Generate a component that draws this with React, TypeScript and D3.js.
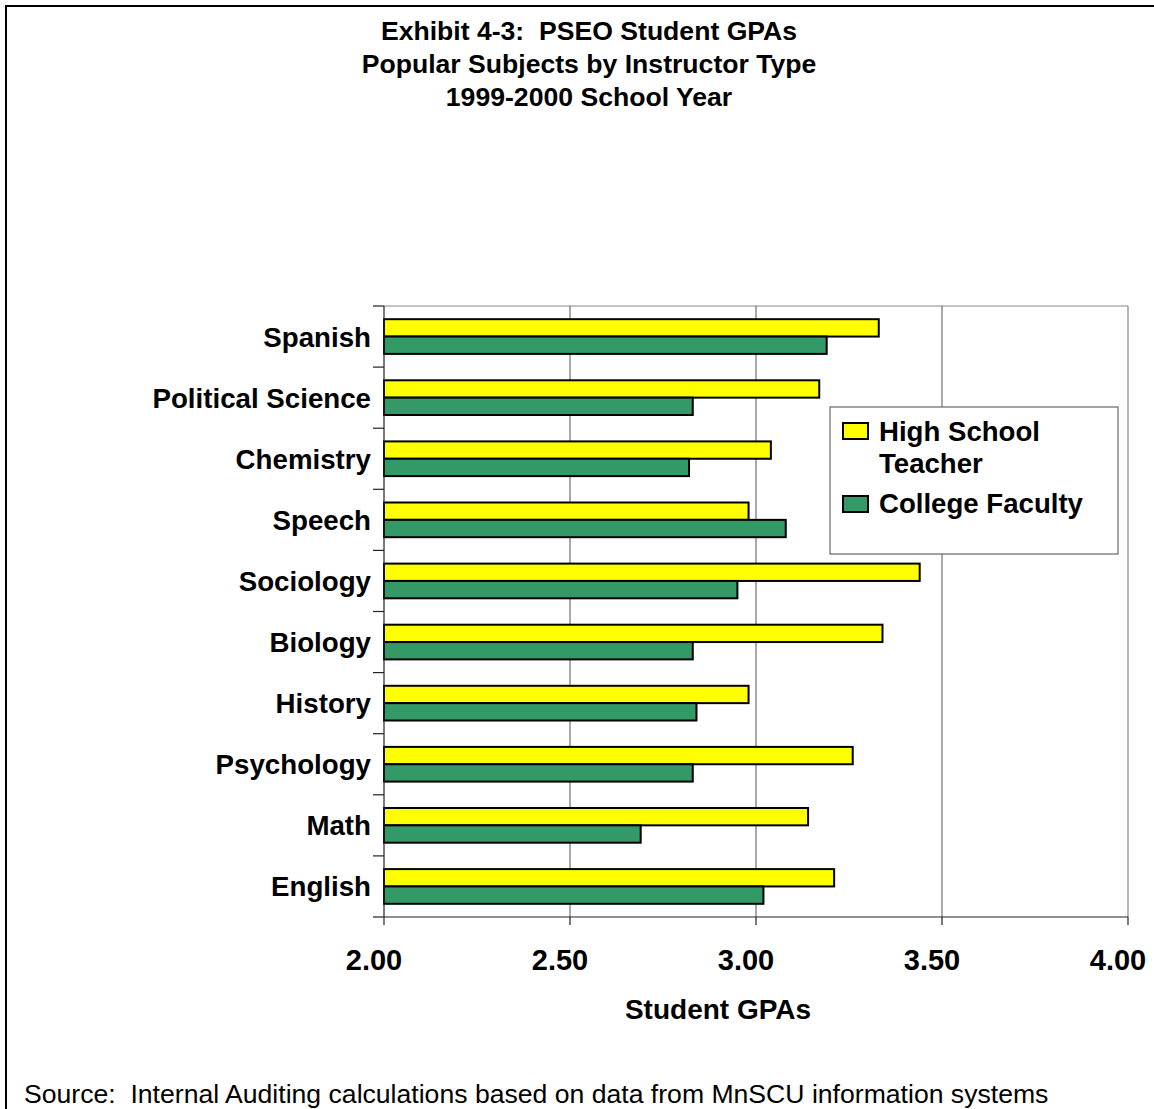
import React from "react";
import * as d3 from "d3";

const categories = ["Spanish", "Political Science", "Chemistry", "Speech", "Sociology", "Biology", "History", "Psychology", "Math", "English"];
const highSchool = [3.33, 3.17, 3.04, 2.98, 3.44, 3.34, 2.98, 3.26, 3.14, 3.21];
const college = [3.19, 2.83, 2.82, 3.08, 2.95, 2.83, 2.84, 2.83, 2.69, 3.02];
const seriesNames = ["High School Teacher", "College Faculty"];
const seriesColors = ["#FFFF00", "#339966"];
const xTicks = [2.0, 2.5, 3.0, 3.5, 4.0];
const titleLines = ["Exhibit 4-3:\u00A0 PSEO Student GPAs", "Popular Subjects by Instructor Type", "1999-2000 School Year"];
const xAxisTitle = "Student GPAs";
const sourceText = "Source:\u00A0 Internal Auditing calculations based on data from MnSCU information systems";

const W = 1154;
const H = 1109;
const FONT = "'Liberation Sans', Arial, Helvetica, sans-serif";

export default function App() {
  const left = 384, right = 1128, top = 306, bottom = 917;
  const x = d3.scaleLinear().domain([2, 4]).range([left, right]);
  const y = d3.scaleBand<string>().domain(categories).range([top, bottom]).paddingInner(0.432).paddingOuter(0.216);
  const sub = d3.scaleBand<number>().domain([0, 1]).range([0, y.bandwidth()]);
  const step = y.step();
  const series = [highSchool, college];

  return (
    <svg width={W} height={H} style={{ position: "absolute", left: 0, top: 0, display: "block", background: "#fff" }} fontFamily={FONT}>
      <rect x={0} y={0} width={W} height={H} fill="#fff" />
      {/* outer frame */}
      <rect x={6} y={6} width={W + 20} height={H + 20} fill="none" stroke="#000" strokeWidth={2} />

      {/* title */}
      {titleLines.map((t, i) => (
        <text key={i} x={589} y={40 + i * 33} textAnchor="middle" fontSize={26.6} fontWeight="bold" fill="#000">{t}</text>
      ))}

      {/* plot frame */}
      <line x1={left} x2={right} y1={top} y2={top} stroke="#888" strokeWidth={1.2} />
      <line x1={right} x2={right} y1={top} y2={bottom} stroke="#888" strokeWidth={1.2} />

      {/* gridlines */}
      {xTicks.slice(1, -1).map((t) => (
        <line key={t} x1={x(t)} x2={x(t)} y1={top} y2={bottom} stroke="#555" strokeWidth={1} />
      ))}

      {/* bars */}
      {categories.map((c, i) => (
        <g key={c}>
          {series.map((s, j) => (
            <rect key={j} x={x(2)} y={(y(c) as number) + (sub(j) as number)} width={x(s[i]) - x(2)} height={sub.bandwidth()} fill={seriesColors[j]} stroke="#000" strokeWidth={2} />
          ))}
        </g>
      ))}

      {/* axes */}
      <line x1={left} x2={left} y1={top} y2={bottom} stroke="#222" strokeWidth={1.2} />
      <line x1={left} x2={right} y1={bottom} y2={bottom} stroke="#222" strokeWidth={1.2} />
      {d3.range(categories.length + 1).map((i) => (
        <line key={i} x1={left - 11} x2={left} y1={top + i * step} y2={top + i * step} stroke="#222" strokeWidth={1.2} />
      ))}
      {xTicks.map((t) => (
        <line key={t} x1={x(t)} x2={x(t)} y1={bottom} y2={bottom + 8} stroke="#222" strokeWidth={1.2} />
      ))}

      {/* category labels */}
      {categories.map((c) => (
        <text key={c} x={left - 13} y={(y(c) as number) + y.bandwidth() / 2} dy="0.36em" textAnchor="end" fontSize={27.7} fontWeight="bold" fill="#000">{c}</text>
      ))}

      {/* x tick labels */}
      {xTicks.map((t) => (
        <text key={t} x={x(t) - 10} y={970} textAnchor="middle" fontSize={29} fontWeight="bold" fill="#000">{t.toFixed(2)}</text>
      ))}
      <text x={(left + right) / 2 - 38} y={1019} textAnchor="middle" fontSize={28} fontWeight="bold" fill="#000">{xAxisTitle}</text>

      {/* legend */}
      <rect x={830} y={407} width={288} height={147} fill="#fff" stroke="#666" strokeWidth={1.2} />
      <rect x={843} y={423} width={25} height={16} fill={seriesColors[0]} stroke="#000" strokeWidth={2} />
      <text x={879} y={441} fontSize={27.6} fontWeight="bold" fill="#000">High School</text>
      <text x={879} y={473} fontSize={27.6} fontWeight="bold" fill="#000">Teacher</text>
      <rect x={843} y={496} width={25} height={16} fill={seriesColors[1]} stroke="#000" strokeWidth={2} />
      <text x={879} y={513} fontSize={27.6} fontWeight="bold" fill="#000">College Faculty</text>

      {/* source */}
      <text x={24} y={1103} fontSize={26.6} fill="#000">{sourceText}</text>
    </svg>
  );
}
